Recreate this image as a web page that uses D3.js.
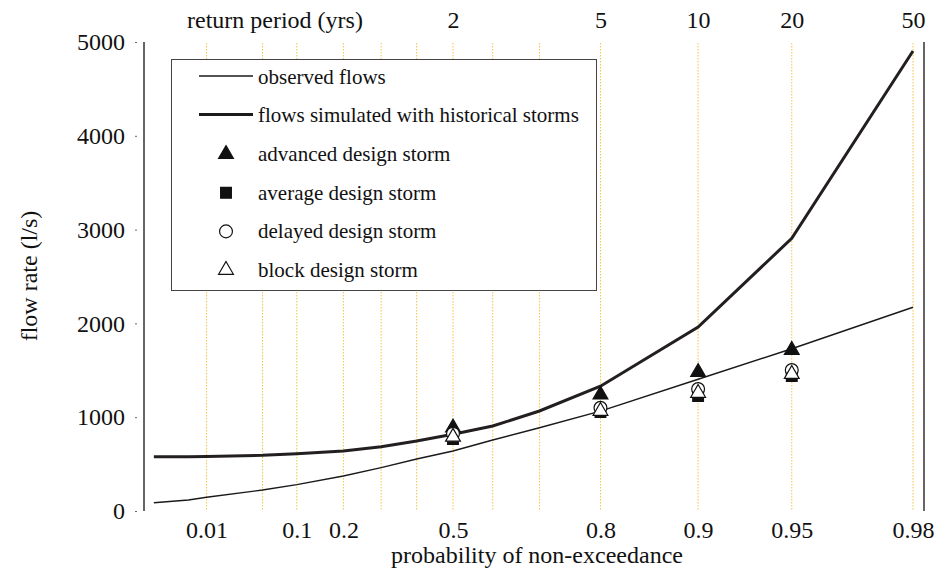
<!DOCTYPE html>
<html>
<head>
<meta charset="utf-8">
<script src="https://cdn.jsdelivr.net/npm/d3@7"></script>
<style>
  body { margin: 0; background: #fff; }
  svg { display: block; font-family: "Liberation Serif", "Times New Roman", serif; }
</style>
</head>
<body>
<div id="chart"></div>
<script>
// probabilities of non-exceedance for the two flow curves
const probs = [0.001, 0.005, 0.01, 0.05, 0.1, 0.2, 0.3, 0.4, 0.5, 0.6, 0.7, 0.8, 0.9, 0.95, 0.98];
const observed = [88, 117, 146, 224, 281, 373, 462, 554, 640, 757, 888, 1065, 1405, 1730, 2172];
const historical = [579, 579, 580, 594, 611, 640, 686, 746, 818, 906, 1066, 1330, 1960, 2907, 4904];

// design storm results
const designProbs = [0.5, 0.8, 0.9, 0.95];
const advanced = [888, 1240, 1480, 1716];
const average = [768, 1055, 1226, 1440];
const delayed = [824, 1100, 1300, 1503];
const block = [790, 1066, 1258, 1460];

// axes
const gridProbs = [0.01, 0.05, 0.1, 0.2, 0.3, 0.4, 0.5, 0.6, 0.7, 0.8, 0.9, 0.95, 0.98];
const tickProbs = [0.01, 0.1, 0.2, 0.5, 0.8, 0.9, 0.95, 0.98];
const returnPeriods = [2, 5, 10, 20, 50];
const yTicks = [0, 1000, 2000, 3000, 4000, 5000];

const width = 939;
const height = 578;
const serif = '"Liberation Serif", "Times New Roman", serif';

// Gumbel reduced variate
const gumbel = p => -Math.log(-Math.log(p));

const x = d3.scaleLinear()
  .domain([gumbel(0.01), gumbel(0.98)])
  .range([206.6, 913]);
const y = d3.scaleLinear()
  .domain([0, 5000])
  .range([511, 42]);

const svg = d3.select("#chart")
  .append("svg")
  .attr("width", width)
  .attr("height", height);

// dotted gridlines
svg.append("g")
  .selectAll("line")
  .data(gridProbs)
  .join("line")
  .attr("x1", d => x(gumbel(d)))
  .attr("x2", d => x(gumbel(d)))
  .attr("y1", y(5000) + 1)
  .attr("y2", y(0))
  .attr("stroke", "#f6c343")
  .attr("stroke-width", 1)
  .attr("stroke-dasharray", "1.5,1.5");

// frame lines left and right
svg.append("g")
  .selectAll("line")
  .data([144, 924])
  .join("line")
  .attr("x1", d => d).attr("x2", d => d)
  .attr("y1", y(5000)).attr("y2", y(0))
  .attr("stroke", "#333")
  .attr("stroke-width", 1.5);

const styleAxis = g => {
  g.attr("font-family", serif).attr("font-size", 24);
  g.select(".domain").remove();
  g.selectAll("text").attr("fill", "#111");
};

// y axis
svg.append("g")
  .attr("transform", "translate(137,0)")
  .call(d3.axisLeft(y).tickValues(yTicks).tickSize(2).tickPadding(10).tickFormat(d3.format("d")))
  .call(styleAxis)
  .selectAll(".tick line").attr("stroke", "#666");

// x axis (probability)
svg.append("g")
  .attr("transform", `translate(0,${y(0)})`)
  .call(d3.axisBottom(x)
    .tickValues(tickProbs.map(gumbel))
    .tickSize(0)
    .tickPadding(10)
    .tickFormat((d, i) => tickProbs[i]))
  .call(styleAxis);

// top axis (return period)
svg.append("g")
  .attr("transform", "translate(0,35)")
  .call(d3.axisTop(x)
    .tickValues(returnPeriods.map(t => gumbel(1 - 1 / t)))
    .tickSize(0)
    .tickPadding(7)
    .tickFormat((d, i) => returnPeriods[i]))
  .call(styleAxis);

svg.append("text")
  .attr("x", 187)
  .attr("y", 28)
  .attr("font-size", 24)
  .attr("fill", "#111")
  .text("return period (yrs)");

// axis titles
svg.append("text")
  .attr("x", 537)
  .attr("y", 563)
  .attr("text-anchor", "middle")
  .attr("font-size", 24)
  .attr("fill", "#111")
  .text("probability of non-exceedance");

svg.append("text")
  .attr("transform", "translate(37,276) rotate(-90)")
  .attr("text-anchor", "middle")
  .attr("font-size", 24)
  .attr("fill", "#111")
  .text("flow rate (l/s)");

// flow curves
const line = d3.line()
  .x((d, i) => x(gumbel(probs[i])))
  .y(d => y(d));

svg.append("path")
  .datum(observed)
  .attr("d", line)
  .attr("fill", "none")
  .attr("stroke", "#1a1a1a")
  .attr("stroke-width", 1.4);

svg.append("path")
  .datum(historical)
  .attr("d", line)
  .attr("fill", "none")
  .attr("stroke", "#231f20")
  .attr("stroke-width", 3);

// marker styles
const markers = [
  { label: "advanced design storm", values: advanced, type: d3.symbolTriangle, fill: "#111" },
  { label: "average design storm", values: average, type: d3.symbolSquare, fill: "#111" },
  { label: "delayed design storm", values: delayed, type: d3.symbolCircle, fill: "#fff" },
  { label: "block design storm", values: block, type: d3.symbolTriangle, fill: "#fff" }
];
const symbolSize = m => m.type === d3.symbolCircle ? 130 : (m.type === d3.symbolSquare ? 115 : 95);

markers.forEach(m => {
  svg.append("g")
    .selectAll("path")
    .data(m.values)
    .join("path")
    .attr("transform", (d, i) => `translate(${x(gumbel(designProbs[i]))},${y(d)})`)
    .attr("d", d3.symbol().type(m.type).size(symbolSize(m)))
    .attr("fill", m.fill)
    .attr("stroke", "#111")
    .attr("stroke-width", 1.2);
});

// legend
const legend = svg.append("g");
legend.append("rect")
  .attr("x", 171.5)
  .attr("y", 59.5)
  .attr("width", 425)
  .attr("height", 231)
  .attr("fill", "#fff")
  .attr("stroke", "#444")
  .attr("stroke-width", 1);

const legendRows = [
  { label: "observed flows", kind: "line", w: 1.4 },
  { label: "flows simulated with historical storms", kind: "line", w: 3 },
  ...markers.map(m => ({ ...m, kind: "symbol" }))
];
const rowY = d3.scalePoint().domain(d3.range(legendRows.length)).range([77, 270]);

legendRows.forEach((r, i) => {
  const ry = rowY(i);
  if (r.kind === "line") {
    legend.append("line")
      .attr("x1", 199).attr("x2", 253)
      .attr("y1", ry - 1).attr("y2", ry - 1)
      .attr("stroke", "#1a1a1a")
      .attr("stroke-width", r.w);
  } else {
    legend.append("path")
      .attr("transform", `translate(226,${ry})`)
      .attr("d", d3.symbol().type(r.type).size(symbolSize(r)))
      .attr("fill", r.fill)
      .attr("stroke", "#111")
      .attr("stroke-width", 1.2);
  }
  legend.append("text")
    .attr("x", 258)
    .attr("y", ry)
    .attr("dy", "0.32em")
    .attr("font-size", 21)
    .attr("fill", "#111")
    .text(r.label);
});
</script>
</body>
</html>
